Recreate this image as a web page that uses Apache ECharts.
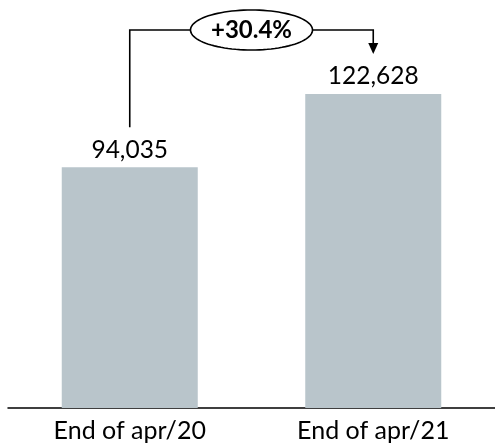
<!DOCTYPE html>
<html>
<head>
<meta charset="utf-8">
<script src="https://cdn.jsdelivr.net/npm/echarts@6/dist/echarts.min.js"></script>
<style>
  html, body { margin: 0; padding: 0; background: #fff; }
  #chart { width: 495px; height: 447px; }
</style>
</head>
<body>
<div id="chart"></div>
<script>
// Period labels and totals at each period end
const categories = ['End of apr/20', 'End of apr/21'];
const values = [94035, 122628];

const FONT = 'Lato, "Open Sans", sans-serif';
const TEXT = '#000000';
const BAR = '#b9c5cb';

const growth = (values[1] / values[0] - 1) * 100;
const growthLabel = (growth >= 0 ? '+' : '') + growth.toFixed(1) + '%';

const chart = echarts.init(document.getElementById('chart'), null, { renderer: 'canvas' });

chart.setOption({
  animation: false,
  grid: { left: 8, top: 24, width: 490, height: 384 },
  xAxis: {
    type: 'category',
    data: categories,
    axisLine: { lineStyle: { color: '#000', width: 1.5 } },
    axisTick: { show: false },
    axisLabel: { color: TEXT, fontFamily: FONT, fontSize: 25, margin: 10 }
  },
  yAxis: {
    type: 'value',
    min: 0,
    max: 150000,
    show: false,
    splitLine: { show: false }
  },
  series: [{
    type: 'bar',
    data: values,
    barWidth: 136,
    itemStyle: { color: BAR },
    label: {
      show: true,
      position: 'top',
      distance: 5,
      color: TEXT,
      fontFamily: FONT,
      fontSize: 24.5,
      formatter: p => p.value.toLocaleString('en-US')
    }
  }]
});

// Growth bracket from the first bar's label to the second bar's label
const p0 = chart.convertToPixel({ seriesIndex: 0 }, [0, values[0]]);
const p1 = chart.convertToPixel({ seriesIndex: 0 }, [1, values[1]]);
const lineY = 30;
const gap = 40;
const cx = (p0[0] + p1[0]) / 2;
const rx = 61, ry = 20;
const ellipsePts = [];
for (let i = 0; i < 96; i++) {
  const a = (i / 96) * Math.PI * 2;
  ellipsePts.push([cx + rx * Math.cos(a), lineY + ry * Math.sin(a)]);
}
const stroke = { stroke: '#000', lineWidth: 1.6, fill: null };
const tipY = p1[1] - gap;

chart.setOption({
  graphic: [
    { type: 'polyline', shape: { points: [[p0[0], p0[1] - gap], [p0[0], lineY], [cx - rx, lineY]] }, style: stroke, z: 10 },
    { type: 'polyline', shape: { points: [[cx + rx, lineY], [p1[0], lineY], [p1[0], tipY - 8]] }, style: stroke, z: 10 },
    { type: 'polygon', shape: { points: [[p1[0] - 5, tipY - 11], [p1[0] + 5, tipY - 11], [p1[0], tipY]] }, style: { fill: '#000' }, z: 10 },
    { type: 'polygon', shape: { points: ellipsePts, smooth: 0 }, style: { stroke: '#000', lineWidth: 1.6, fill: '#fff' }, z: 10 },
    { type: 'text', x: cx, y: lineY, z: 11,
      style: { text: growthLabel, fill: TEXT, font: 'bold 24px ' + FONT, align: 'center', verticalAlign: 'middle' } }
  ]
});
</script>
</body>
</html>
